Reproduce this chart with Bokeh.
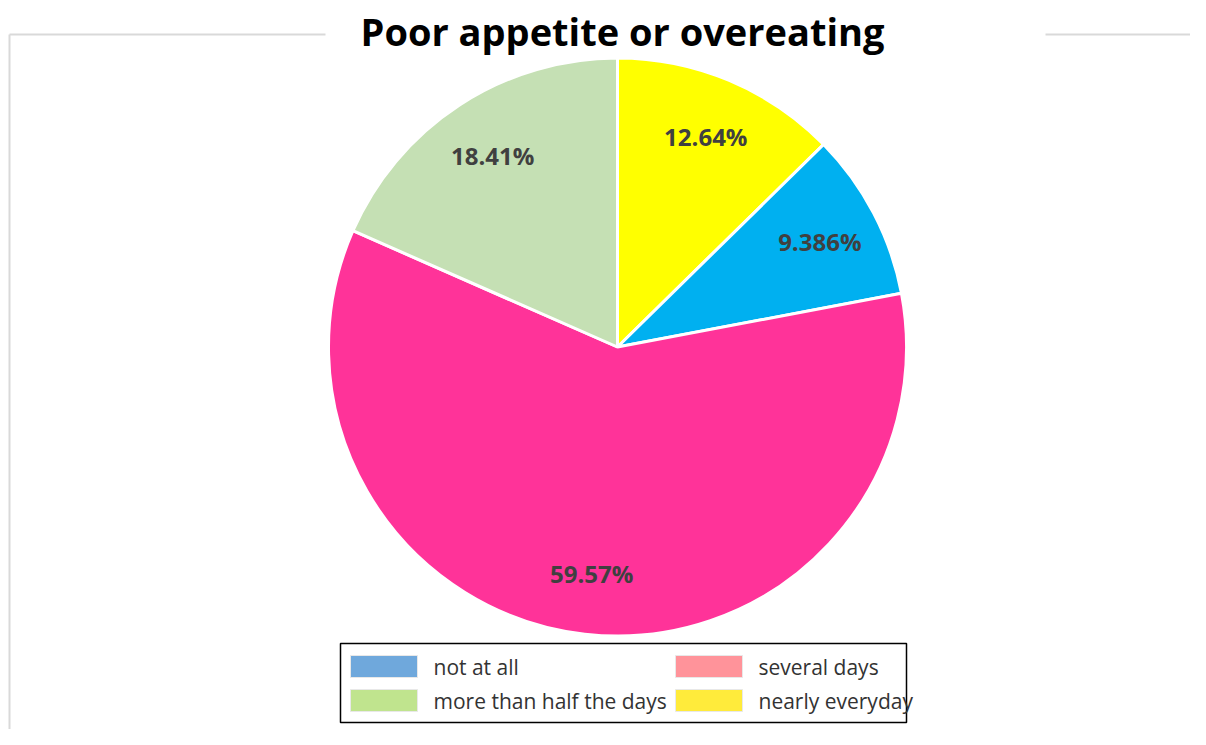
import math
from bokeh.plotting import figure
from bokeh.models import Range1d, ColumnDataSource
from bokeh.core.properties import value
from bokeh.embed import file_html
from bokeh.resources import INLINE

# ---- data ----
title = "Poor appetite or overeating"
slice_names = ["nearly everyday", "not at all", "several days", "more than half the days"]
slice_values = [12.64, 9.386, 59.57, 18.41]
slice_colors = ["#FFFF00", "#00B0F0", "#FF3399", "#C5E0B4"]

legend_names = ["not at all", "several days", "more than half the days", "nearly everyday"]
legend_colors = ["#6FA8DC", "#FF939A", "#C0E48E", "#FFEB3B"]

# ---- geometry (screen pixel coords, y flipped) ----
W, H = 1190, 729
def Y(py):
    return H - py

p = figure(width=W, height=H, x_range=Range1d(0, W), y_range=Range1d(0, H),
           output_backend="svg", toolbar_location=None, x_axis_type=None, y_axis_type=None,
           min_border=0, outline_line_color=None)
p.grid.visible = False
p.background_fill_color = "white"
p.border_fill_color = "white"

# frame lines
p.segment(x0=[9, 1045, 9], y0=[Y(34), Y(34), Y(34)], x1=[325, W, 9], y1=[Y(34), Y(34), Y(H)],
          line_color="#D9D9D9", line_width=2)

# title
p.text(x=[622], y=[Y(30)], text=[title], text_align="center", text_baseline="middle",
       text_font=value("Open Sans"), text_font_style="bold", text_font_size="38px", text_color="black")

# pie
cx, cy, r = 617, Y(346.5), 289
total = sum(slice_values)
starts, ends, mids = [], [], []
acc = 0.0
for v in slice_values:
    a0 = math.pi / 2 - acc / total * 2 * math.pi
    acc += v
    a1 = math.pi / 2 - acc / total * 2 * math.pi
    starts.append(a0)
    ends.append(a1)
    mids.append((a0 + a1) / 2)

src = ColumnDataSource(dict(start=starts, end=ends, color=slice_colors))
p.wedge(x=cx, y=cy, radius=r, start_angle="start", end_angle="end", direction="clock",
        fill_color="color", line_color="white", line_width=3, source=src)

lab_r = 0.79 * r
lx = [cx + lab_r * math.cos(m) for m in mids]
ly = [cy + lab_r * math.sin(m) for m in mids]
labels = [f"{v:.4g}%" for v in slice_values]
p.text(x=lx, y=ly, text=labels, text_align="center", text_baseline="middle",
       text_font=value("Open Sans"), text_font_style="bold", text_font_size="24px",
       text_color="#404040")

# legend
p.quad(left=[340], right=[906], top=[Y(643)], bottom=[Y(722)], fill_color="white",
       line_color="black", line_width=1.5)
col_x = [350, 675]
row_y = [666, 700]
sw_l, sw_t, sw_b, tx_x = [], [], [], []
ty = []
for i, name in enumerate(legend_names):
    c = i % 2
    rr = i // 2
    sw_l.append(col_x[c])
    sw_t.append(Y(row_y[rr] - 11))
    sw_b.append(Y(row_y[rr] + 11))
    tx_x.append(col_x[c] + 83)
    ty.append(Y(row_y[rr]))
p.quad(left=sw_l, right=[v + 67 for v in sw_l], top=sw_t, bottom=sw_b,
       fill_color=legend_colors, line_color="#E8E8E8", line_width=1)
p.text(x=tx_x, y=ty, text=legend_names, text_align="left", text_baseline="middle",
       text_font=value("Open Sans"), text_font_size="21px", text_color="#333333")

open("out.html", "w").write(file_html(p, INLINE))
